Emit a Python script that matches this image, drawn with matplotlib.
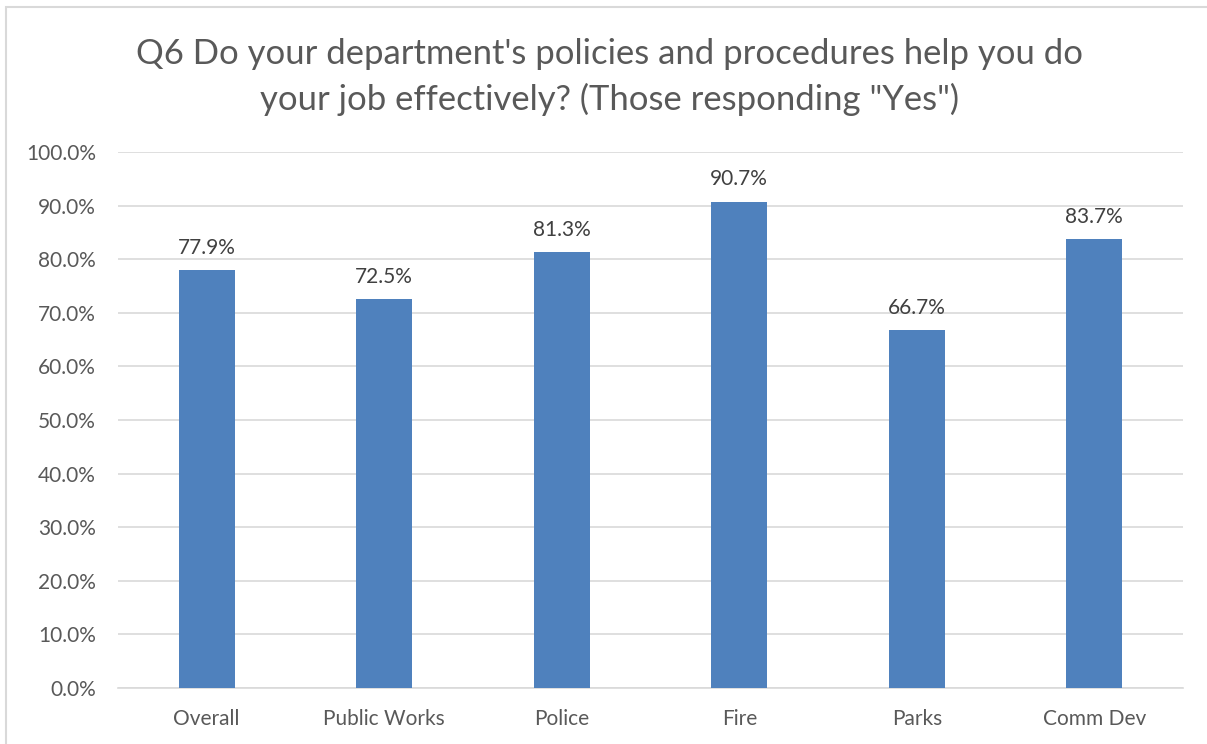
import matplotlib
matplotlib.use("Agg")
import matplotlib.pyplot as plt
from matplotlib.patches import Rectangle
from matplotlib.ticker import FuncFormatter, MultipleLocator

categories = ["Overall", "Public Works", "Police", "Fire", "Parks", "Comm Dev"]
yes_pct = [77.9, 72.5, 81.3, 90.7, 66.7, 83.7]
title = "Q6 Do your department's policies and procedures help you do\nyour job effectively? (Those responding \"Yes\")"

plt.rcParams["font.family"] = ["Lato", "DejaVu Sans"]
text_color = "#595959"
grid_color = "#D9D9D9"
bar_color = "#4F81BD"

W, H = 1207, 744
fig = plt.figure(figsize=(W / 100, H / 100), dpi=100)
fig.patch.set_facecolor("white")

# outer chart frame
fig.add_artist(Rectangle((6 / W, -0.05), 1.2, 1 - 7 / H + 0.05,
                         transform=fig.transFigure, fill=False,
                         edgecolor="#D9D9D9", linewidth=1.5))

ax = fig.add_axes([118 / W, 1 - 688 / H, (1183 - 118) / W, (688 - 152) / H])
x = range(len(categories))
bars = ax.bar(x, yes_pct, width=0.315, color=bar_color, zorder=3)

ax.set_ylim(0, 100)
ax.set_xlim(-0.5, len(categories) - 0.5)
ax.yaxis.set_major_locator(MultipleLocator(10))
ax.yaxis.set_major_formatter(FuncFormatter(lambda v, _: f"{v:.1f}%"))
ax.grid(axis="y", color=grid_color, linewidth=1.2, zorder=0)
for s in ["top", "right", "left"]:
    ax.spines[s].set_visible(False)
ax.spines["bottom"].set_color(grid_color)
ax.spines["bottom"].set_linewidth(1.2)
ax.tick_params(axis="both", length=0, labelsize=15, colors=text_color)
ax.tick_params(axis="y", pad=16)
ax.tick_params(axis="x", pad=15)
ax.set_xticks(list(x))
ax.set_xticklabels(categories)

for b, v in zip(bars, yes_pct):
    ax.annotate(f"{v:.1f}%", (b.get_x() + b.get_width() / 2, v),
                xytext=(0, 9), textcoords="offset points",
                ha="center", va="bottom", fontsize=15, color="#404040")

fig.text(610 / W, 1 - 77 / H, title, ha="center", va="center",
         fontsize=24.9, color=text_color, linespacing=1.5)

fig.savefig("out.png", dpi=100, facecolor="white")
